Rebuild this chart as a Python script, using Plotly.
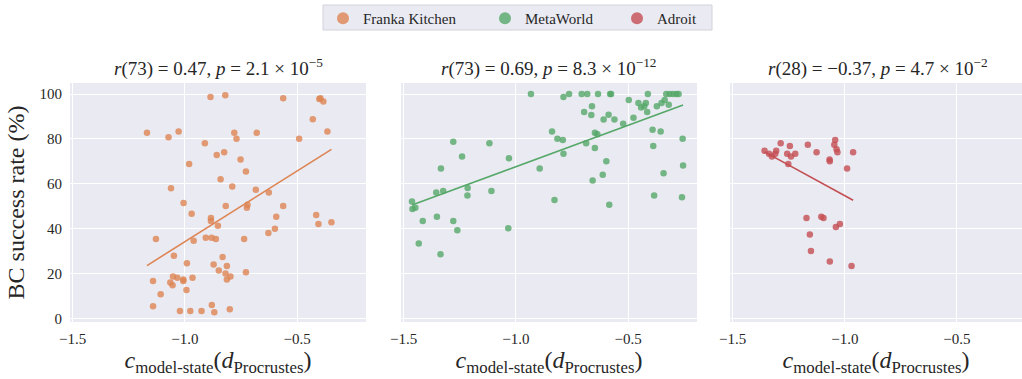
import numpy as np
import plotly.graph_objects as go

# Franka Kitchen: model-state correlation vs BC success rate
franka_x = [-0.886, -0.820, -0.562, -0.401, -0.396, -0.383, -0.430, -0.365, -0.491, -1.169,
            -1.073, -1.028, -0.780, -0.770, -0.680, -0.911, -0.858, -0.825, -0.752, -0.981,
            -0.728, -0.841, -0.789, -0.684, -0.626, -1.062, -1.006, -0.721, -0.724, -0.818,
            -0.562, -0.970, -0.884, -0.884, -0.853, -0.593, -0.415, -0.405, -0.347, -0.599,
            -0.628, -1.129, -0.961, -0.907, -0.881, -0.862, -0.736, -1.049, -0.832, -0.991,
            -0.872, -0.813, -0.849, -0.728, -0.819, -1.053, -1.034, -1.007, -1.007, -0.966,
            -0.797, -0.813, -1.142, -1.065, -1.055, -0.993, -1.108, -1.142, -0.880, -1.022,
            -0.976, -0.926, -0.869, -0.800]
franka_y = [98.7, 99.4, 98.1, 97.8, 98.1, 96.7, 88.8, 83.3, 80.1, 82.7,
            80.8, 83.3, 82.7, 80.1, 82.7, 78.1, 72.8, 74.1, 70.8, 68.8,
            65.5, 62.1, 58.8, 57.4, 56.1, 58.0, 51.5, 50.7, 49.4, 50.1,
            50.1, 46.7, 44.8, 43.5, 41.4, 45.4, 46.1, 42.1, 42.9, 40.0,
            38.1, 35.4, 34.7, 36.0, 36.0, 35.4, 35.4, 28.0, 27.4, 24.7,
            24.1, 23.4, 21.4, 20.7, 20.1, 18.8, 18.2, 17.4, 16.8, 18.2,
            18.8, 17.4, 16.8, 16.1, 14.9, 12.8, 10.9, 5.5, 6.1, 3.4,
            3.4, 3.4, 2.8, 4.2]

# MetaWorld
meta_x = [-0.933, -0.788, -0.763, -0.707, -0.682, -0.634, -0.580, -0.576, -0.412, -0.330,
          -0.315, -0.300, -0.285, -0.275, -0.497, -0.454, -0.421, -0.442, -0.428, -0.415,
          -0.372, -0.351, -0.337, -0.319, -0.661, -0.696, -0.664, -0.609, -0.587, -0.561,
          -0.522, -0.476, -0.391, -0.355, -0.257, -0.388, -0.839, -0.815, -0.791, -0.648,
          -0.637, -0.687, -0.648, -0.788, -0.597, -0.613, -0.658, -0.342, -0.255, -0.894,
          -1.031, -1.118, -1.279, -1.240, -1.334, -1.355, -1.324, -1.215, -1.216, -1.109,
          -0.828, -0.584, -0.384, -0.260, -1.463, -1.461, -1.448, -1.415, -1.352, -1.279,
          -1.261, -1.034, -1.433, -1.336]
meta_y = [100.0, 98.7, 100.0, 100.0, 100.0, 100.0, 100.0, 100.0, 100.0, 100.0,
          100.0, 100.0, 100.0, 100.0, 97.3, 96.0, 96.0, 94.0, 94.6, 92.0,
          94.6, 96.0, 97.3, 95.2, 94.6, 92.0, 90.6, 88.7, 90.8, 88.7,
          86.8, 89.4, 84.1, 83.3, 80.1, 76.8, 83.3, 80.1, 79.5, 82.7,
          82.1, 78.1, 76.0, 73.4, 70.1, 64.1, 61.5, 64.7, 68.2, 66.8,
          71.4, 78.1, 78.7, 72.2, 66.8, 56.1, 56.8, 58.2, 54.8, 56.8,
          52.8, 50.7, 54.8, 54.0, 52.1, 48.8, 49.4, 43.5, 45.4, 43.5,
          39.4, 40.2, 33.5, 28.7]

# Adroit
adroit_x = [-1.358, -1.338, -1.325, -1.306, -1.310, -1.286, -1.245, -1.257, -1.240, -1.221,
            -1.252, -1.165, -1.126, -1.068, -1.067, -1.043, -1.047, -1.037, -1.033, -0.963,
            -0.990, -1.171, -1.105, -1.095, -1.040, -1.022, -1.156, -1.151, -1.067, -0.970]
adroit_y = [74.7, 73.4, 72.2, 74.7, 73.4, 78.1, 76.8, 73.4, 72.2, 73.4,
            68.8, 77.4, 74.1, 70.8, 70.1, 79.5, 77.4, 75.4, 74.1, 74.1,
            66.8, 44.8, 45.4, 44.8, 40.8, 42.1, 37.4, 30.1, 25.4, 23.4]

titles = [
    "<i>r</i>(73) = 0.47, <i>p</i> = 2.1 × 10<sup>−5</sup>",
    "<i>r</i>(73) = 0.69, <i>p</i> = 8.3 × 10<sup>−12</sup>",
    "<i>r</i>(28) = −0.37, <i>p</i> = 4.7 × 10<sup>−2</sup>",
]
names = ["Franka Kitchen", "MetaWorld", "Adroit"]
colors = ["#dd8452", "#55a868", "#c44e52"]
xticks = [-1.5, -1.0, -0.5]
xtick_text = ["−1.5", "−1.0", "−0.5"]
yticks = [0, 20, 40, 60, 80, 100]

FONT = "'Liberation Serif', 'Times New Roman', serif"
TXT = "#262626"
BG = "#eaeaf2"

W, H = 1022, 379
ML, MR, MT, MB = 70, 0, 83, 57
plot_w = W - ML - MR
plot_h = H - MT - MB
px_dom = [(70, 366), (401, 697), (730, 1022)]
domains = [((a - ML) / plot_w, (b - ML) / plot_w) for a, b in px_dom]
xranges = [[-1.512, -0.193], [-1.512, -0.193], [-1.512, -0.210]]


def px_x(px):
    return (px - ML) / plot_w


def px_y(py):
    return (H - MB - py) / plot_h


fig = go.Figure()
datasets = [(franka_x, franka_y), (meta_x, meta_y), (adroit_x, adroit_y)]
legend_ids = ["legend", "legend2", "legend3"]
for i, ((xs, ys), name, col) in enumerate(zip(datasets, names, colors)):
    ax = "" if i == 0 else str(i + 1)
    fig.add_trace(go.Scatter(
        x=xs, y=ys, mode="markers", name=name,
        marker=dict(color=col, size=6.5, opacity=0.8),
        xaxis="x" + ax, yaxis="y" + ax, showlegend=True, legend=legend_ids[i],
    ))
    # least-squares fit over the data's x-extent
    xa, ya = np.asarray(xs), np.asarray(ys)
    slope, icpt = np.polyfit(xa, ya, 1)
    lx = np.array([xa.min(), xa.max()])
    fig.add_trace(go.Scatter(
        x=lx, y=slope * lx + icpt, mode="lines",
        line=dict(color=col, width=1.6),
        xaxis="x" + ax, yaxis="y" + ax, showlegend=False, hoverinfo="skip",
    ))

layout = dict(
    width=W, height=H,
    margin=dict(l=ML, r=MR, t=MT, b=MB),
    paper_bgcolor="white", plot_bgcolor=BG,
    font=dict(family=FONT, color=TXT, size=15),
    annotations=[],
)

# one legend entry per dataset, laid out in a row inside a shared frame
legend_left = [323, 485, 617]
for lid, lx_px in zip(legend_ids, legend_left):
    layout[lid] = dict(
        orientation="h", x=lx_px / W, xanchor="left", y=1 - 2 / H, yanchor="top",
        xref="container", yref="container",
        bgcolor="rgba(0,0,0,0)", borderwidth=0,
        font=dict(family=FONT, size=15, color=TXT),
        itemsizing="constant",
    )

layout["shapes"] = [dict(
    type="rect", xref="paper", yref="paper",
    x0=px_x(323), x1=px_x(712), y0=px_y(30), y1=px_y(5),
    fillcolor=BG, line=dict(color="#d2d2da", width=1), layer="below",
)]

for i in range(3):
    ax = "" if i == 0 else str(i + 1)
    layout["xaxis" + ax] = dict(
        domain=list(domains[i]), range=xranges[i], anchor="y" + ax,
        tickvals=xticks, ticktext=xtick_text,
        showgrid=True, gridcolor="white", gridwidth=1, zeroline=False,
        showline=False, ticks="", ticklabelstandoff=6,
        tickfont=dict(size=15, family=FONT, color=TXT),
        title=dict(text="<i>c</i><sub>model-state</sub>(<i>d</i><sub>Procrustes</sub>)",
                   font=dict(size=24, family=FONT, color=TXT), standoff=5),
    )
    layout["yaxis" + ax] = dict(
        domain=[0, 1], range=[-1.5, 104.9], anchor="x" + ax,
        tickvals=yticks, showticklabels=(i == 0),
        showgrid=True, gridcolor="white", gridwidth=1, zeroline=False,
        showline=False, ticks="", ticklabelstandoff=7,
        tickfont=dict(size=15, family=FONT, color=TXT),
    )
    layout["annotations"].append(dict(
        text=titles[i], xref="paper", yref="paper",
        x=(domains[i][0] + domains[i][1]) / 2 if i < 2 else (domains[i][0] + (1026 - ML) / plot_w) / 2,
        y=1.0, xanchor="center", yanchor="bottom", yshift=1, showarrow=False,
        font=dict(size=19, family=FONT, color=TXT),
    ))

layout["yaxis"]["title"] = dict(text="BC success rate (%)",
                                font=dict(size=24, family=FONT, color=TXT), standoff=8)

fig.update_layout(**layout)
fig.write_html("out.html")
